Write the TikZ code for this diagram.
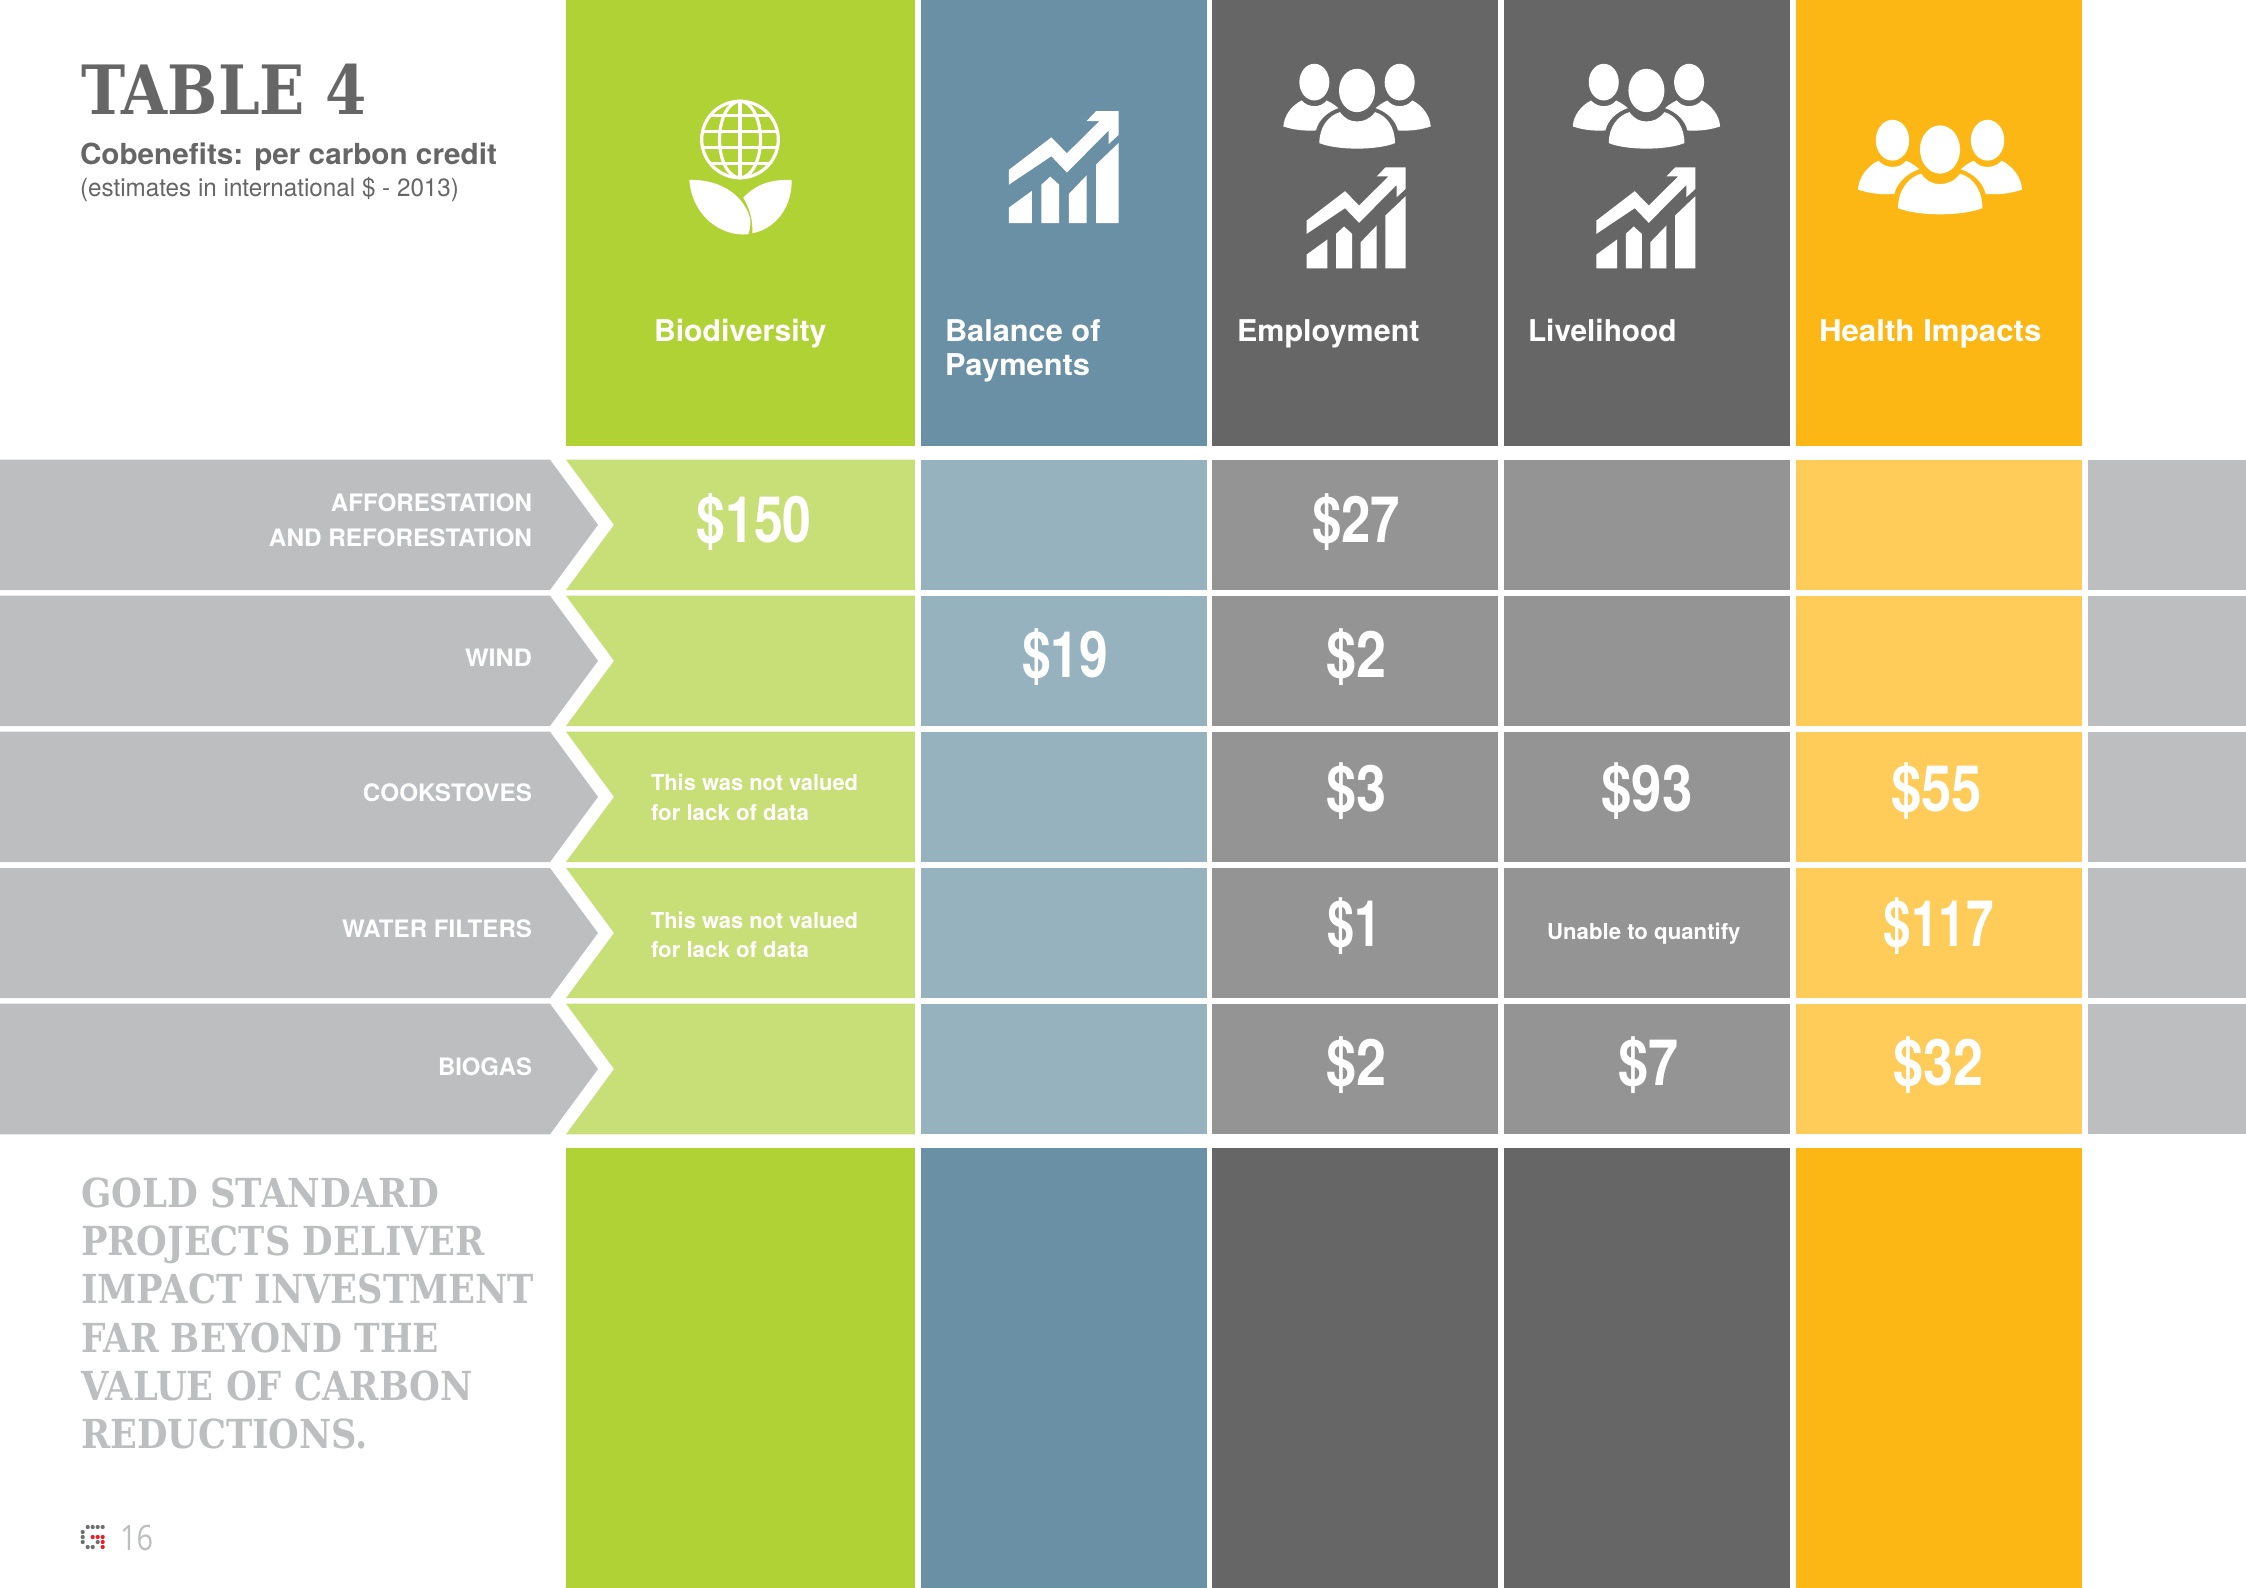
\documentclass[tikz,border=0pt]{standalone}
\usepackage{graphicx}
\usepackage{fontspec}
\setmainfont{TeX Gyre Heros}
\newfontfamily\slabfont{DejaVu Serif}[BoldFont={DejaVu Serif Bold}]
\newfontfamily\thinfont{Open Sans}
\newlength{\pxu}\setlength{\pxu}{0.5pt}
\newcommand{\fitw}[2]{\resizebox{#1\pxu}{\height}{#2}}
\definecolor{cgreen}{HTML}{B0D235}
\definecolor{cblue}{HTML}{6A90A5}
\definecolor{cdark}{HTML}{666666}
\definecolor{camber}{HTML}{FDB714}
\definecolor{lgreen}{HTML}{C8DF78}
\definecolor{lblue}{HTML}{97B2BF}
\definecolor{ldark}{HTML}{949494}
\definecolor{lamber}{HTML}{FFCB59}
\definecolor{cgrey}{HTML}{BCBEC0}
\definecolor{cred}{HTML}{ED1C24}
\definecolor{cdot}{HTML}{6D6E70}
\tikzset{
  txt/.style={inner sep=0pt,outer sep=0pt},
  headlabel/.style={txt,anchor=base west,text=white,font=\fontsize{15}{17}\selectfont\bfseries},
  rowlabel/.style={txt,anchor=base east,text=white,font=\fontsize{12}{14}\selectfont\bfseries},
  valuetxt/.style={txt,anchor=base,text=white,font=\fontsize{32}{34}\selectfont\bfseries},
  smalltxt/.style={txt,anchor=base west,text=white,font=\fontsize{11}{13}\selectfont\bfseries},
  slogan/.style={txt,anchor=base west,text=cgrey,font=\slabfont\fontsize{20}{24}\selectfont\bfseries},
  gdot/.style={fill=cdot},
  rdot/.style={fill=cred},
}
\newcommand{\peopleicon}[3]{%
\begin{scope}[shift={(#1,#2)},scale=#3*0.33333]
\begin{scope}[shift={(-291,-70)},fill=white]
\fill (163,125) ellipse [x radius=45,y radius=55];
\fill (291,150) ellipse [x radius=54,y radius=65];
\fill (419,125) ellipse [x radius=45,y radius=55];
\fill (178,308) .. controls (178,260) and (205,225) .. (240,215) .. controls (255,235) and (270,243) .. (291,243) .. controls (312,243) and (330,235) .. (345,215) .. controls (380,225) and (405,260) .. (405,308) .. controls (350,330) and (232,330) .. (178,308) -- cycle;
\fill (70,258) .. controls (72,225) and (95,195) .. (125,180) .. controls (135,192) and (150,197) .. (163,197) .. controls (178,197) and (190,192) .. (200,180) .. controls (215,187) and (226,195) .. (235,203) .. controls (200,215) and (175,240) .. (168,270) .. controls (130,272) and (100,268) .. (70,258) -- cycle;
\fill (512,258) .. controls (510,225) and (487,195) .. (457,180) .. controls (447,192) and (432,197) .. (419,197) .. controls (404,197) and (392,192) .. (382,180) .. controls (367,187) and (356,195) .. (347,203) .. controls (382,215) and (407,240) .. (414,270) .. controls (452,272) and (482,268) .. (512,258) -- cycle;
\end{scope}
\end{scope}}
\newcommand{\charticon}[3]{%
\begin{scope}[shift={(#1,#2)},scale=#3*0.33333]
\begin{scope}[shift={(-140,-684)},fill=white]
\fill (140,540) -- (255,452) -- (297,495) -- (385,408) -- (350,408) -- (376,381) -- (437,381) -- (437,445) -- (410,470) -- (410,433) -- (297,547) -- (255,503) -- (140,580) -- cycle;
\fill (140,642) -- (202,597) -- (202,684) -- (140,684) -- cycle;
\fill (228,580) -- (252,558) -- (276,580) -- (276,684) -- (228,684) -- cycle;
\fill (302,605) -- (350,555) -- (350,684) -- (302,684) -- cycle;
\fill (376,525) -- (437,467) -- (437,684) -- (376,684) -- cycle;
\end{scope}
\end{scope}}
\begin{document}
\begin{tikzpicture}[x=0.5pt,y=-0.5pt]
\useasboundingbox (0,0) rectangle (2246,1588);
% header and footer columns
\foreach \xa/\xb/\c in {566/915/cgreen,921/1207/cblue,1212/1498/cdark,1504/1790/cdark,1796/2082/camber}{
  \fill[\c] (\xa,0) rectangle (\xb,446);
  \fill[\c] (\xa,1148) rectangle (\xb,1588);
}
% rows
\foreach \t/\b in {459.7/590,595.7/726,731.7/862,868/998,1003.7/1134.3}{
  \pgfmathsetmacro{\m}{(\t+\b)/2}
  \fill[cgrey] (0,\t) -- (550,\t) -- (598,\m) -- (550,\b) -- (0,\b) -- cycle;
  \fill[lgreen] (566,\t) -- (915,\t) -- (915,\b) -- (566,\b) -- (614,\m) -- cycle;
  \fill[lblue] (921,\t) rectangle (1207,\b);
  \fill[ldark] (1212,\t) rectangle (1498,\b);
  \fill[ldark] (1504,\t) rectangle (1790,\b);
  \fill[lamber] (1796,\t) rectangle (2082,\b);
  \fill[cgrey] (2088,\t) rectangle (2246,\b);
}
% globe and leaves
\begin{scope}[draw=white,line width=1.6pt]
\draw (740,139.5) circle [radius=38.3];
\draw (740,139.5) ellipse [x radius=20.5,y radius=38.3];
\draw (740,101) -- (740,178);
\begin{scope}
\clip (740,139.5) circle [radius=38.3];
\foreach \yy in {115.2,131.3,147.7,163.8} \draw (700,\yy) -- (780,\yy);
\end{scope}
\end{scope}
\fill[white] (689.3,180) .. controls (715,179) and (742,191) .. (750,218) .. controls (751,225) and (750,229) .. (748.3,234.3) .. controls (720,237) and (692,215) .. (689.3,180) -- cycle;
\fill[white] (791.7,180) .. controls (770,179) and (755,185) .. (743.3,197.7) .. controls (750,209) and (753,221) .. (752.3,233.3) .. controls (775,229) and (792,208) .. (791.7,180) -- cycle;
% icons
\charticon{1008.8}{223.2}{1.11}
\peopleicon{1357}{63.8}{1}
\charticon{1306.7}{268.5}{1}
\peopleicon{1646.4}{63.8}{1}
\charticon{1596.4}{268.5}{1}
\peopleicon{1940}{119.8}{1.114}
% title
\node[txt,anchor=base west,text=cdark,font=\slabfont\fontsize{34}{38}\selectfont\bfseries] (title) at (81,114.3) {\fitw{286}{TABLE 4}};
\node[txt,anchor=base west,text=cdark,font=\fontsize{14.5}{17}\selectfont\bfseries] (sub) at (80,164.8) {\fitw{417}{Cobenefits: per carbon credit}};
\node[txt,anchor=base west,text=cdark,font=\fontsize{12.5}{15}\selectfont] (est) at (80,197) {\fitw{379}{(estimates in international \$ - 2013)}};
% column heads
\node[headlabel] (hbio) at (654,341.5) {\fitw{172.5}{Biodiversity}};
\node[headlabel] (hbal) at (945,341.5) {\fitw{155.5}{Balance of}};
\node[headlabel] (hpay) at (945,375.5) {\fitw{145}{Payments}};
\node[headlabel] (hemp) at (1237,341.5) {\fitw{182.5}{Employment}};
\node[headlabel] (hliv) at (1528,341.5) {\fitw{148.5}{Livelihood}};
\node[headlabel] (hhea) at (1819,341.5) {\fitw{222.5}{Health Impacts}};
% row labels
\node[rowlabel] (r1a) at (532,511.5) {\fitw{201}{AFFORESTATION}};
\node[rowlabel] (r1b) at (532,546.5) {\fitw{263}{AND REFORESTATION}};
\node[rowlabel] (r2) at (532,666.2) {\fitw{67}{WIND}};
\node[rowlabel] (r3) at (532,801.5) {\fitw{169}{COOKSTOVES}};
\node[rowlabel] (r4) at (532,937) {\fitw{190}{WATER FILTERS}};
\node[rowlabel] (r5) at (532,1075) {\fitw{94}{BIOGAS}};
% values
\node[valuetxt] (v1) at (754,542.5) {\fitw{115}{\$150}};
\node[valuetxt] (v2) at (1356,542.5) {\fitw{88}{\$27}};
\node[valuetxt] (v3) at (1065,677) {\fitw{86}{\$19}};
\node[valuetxt] (v4) at (1356,677) {\fitw{60}{\$2}};
\node[valuetxt] (v5) at (1356,811.5) {\fitw{60}{\$3}};
\node[valuetxt] (v6) at (1647,811.5) {\fitw{91}{\$93}};
\node[valuetxt] (v7) at (1936.5,811.5) {\fitw{91}{\$55}};
\node[valuetxt] (v8) at (1354,946.5) {\fitw{54}{\$1}};
\node[valuetxt] (v9) at (1938.5,946.5) {\fitw{110}{\$117}};
\node[valuetxt] (v10) at (1356,1085.5) {\fitw{60}{\$2}};
\node[valuetxt] (v11) at (1648.5,1085.5) {\fitw{60}{\$7}};
\node[valuetxt] (v12) at (1938.5,1085.5) {\fitw{90}{\$32}};
% small notes
\node[smalltxt] (n1a) at (651,790.3) {\fitw{207}{This was not valued}};
\node[smalltxt] (n1b) at (651,820) {\fitw{158}{for lack of data}};
\node[smalltxt] (n2a) at (651,928) {\fitw{207}{This was not valued}};
\node[smalltxt] (n2b) at (651,957) {\fitw{158}{for lack of data}};
\node[smalltxt] (n3) at (1547,939.5) {\fitw{193.5}{Unable to quantify}};
% slogan
\node[slogan] (s1) at (81,1207.5) {\fitw{358}{GOLD STANDARD}};
\node[slogan] (s2) at (81,1255.5) {\fitw{404}{PROJECTS DELIVER}};
\node[slogan] (s3) at (81,1303.5) {\fitw{453}{IMPACT INVESTMENT}};
\node[slogan] (s4) at (81,1352.5) {\fitw{358}{FAR BEYOND THE}};
\node[slogan] (s5) at (81,1400) {\fitw{392}{VALUE OF CARBON}};
\node[slogan] (s6) at (81,1448.5) {\fitw{287}{REDUCTIONS.}};
% logo and page number
\foreach \px/\py in {87.7/1526,92.7/1526,97.7/1526,102.7/1526,82.7/1531,82.7/1536,82.7/1541,87.7/1546,92.7/1546,97.7/1541}
  \fill[gdot] (\px,\py+1) circle [radius=2.1];
\foreach \px/\py in {92.7/1536,97.7/1536,102.7/1536,102.7/1541,102.7/1546}
  \fill[rdot] (\px,\py+1) circle [radius=2.1];
\node[txt,anchor=base west,text=cgrey,font=\thinfont\fontsize{17.5}{19}\selectfont] (page) at (120,1550) {\fitw{33}{16}};
\end{tikzpicture}
\end{document}
